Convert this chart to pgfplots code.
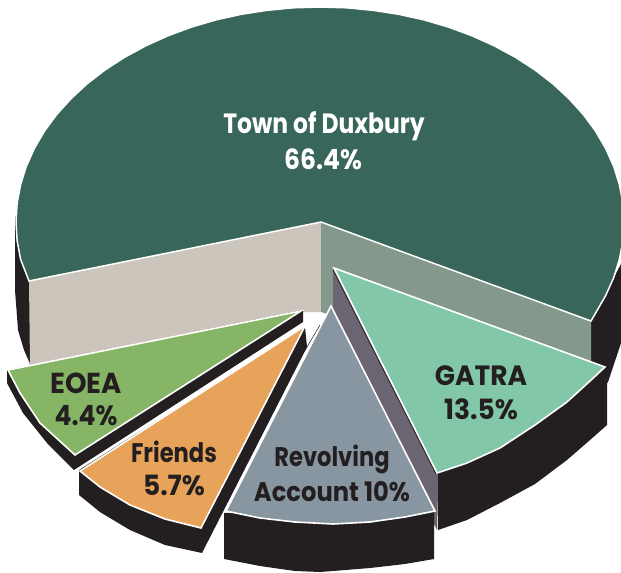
\documentclass[border=0pt]{standalone}
\usepackage{pgfplots}
\pgfplotsset{compat=1.18}
\usepackage{fontspec}
\setmainfont{Poppins}
\newfontfamily\lab[FakeStretch=0.84]{Poppins}
\newfontfamily\labb[FakeStretch=0.95]{Poppins}
\newfontfamily\labc[FakeStretch=0.90]{Poppins}
\definecolor{dk}{HTML}{231F20}
\definecolor{gtop}{HTML}{38665A}
\definecolor{beige}{HTML}{CCC5BB}
\definecolor{sage}{HTML}{84998B}
\definecolor{gatra}{HTML}{82C8A8}
\definecolor{rev}{HTML}{8896A2}
\definecolor{side}{HTML}{6A6570}
\definecolor{fri}{HTML}{E8A35B}
\definecolor{eoea}{HTML}{85B565}
\begin{document}
\begin{tikzpicture}
\useasboundingbox (0,0) rectangle (621bp,573bp);
\begin{axis}[hide axis,scale only axis,width=621bp,height=573bp,xmin=0,xmax=621,ymin=0,ymax=573,y dir=reverse,clip=true,anchor=south west,at={(0,0)}]
% body left and right
\addplot[fill=dk,draw=none] coordinates {(29,281)(15,215)(15,290)(18,330)(24,350)(31,366)(40,366)(40,281)} --cycle;
\addplot[fill=dk,draw=none] coordinates {(591,321)(622,262)(622,340)(608,382)(591,400)} --cycle;
% walls
\addplot[fill=beige,draw=none] coordinates {(29,281)(321,222)(321,312)(302,312)(30,365)} --cycle;
\addplot[fill=sage,draw=none] coordinates {(321,222)(591,321)(591,380)(400,380)(334,316)(321,312)} --cycle;
% Town of Duxbury top
\addplot[fill=gtop,draw=white,line width=1.5pt,line join=miter] coordinates {(29,281)(20.6,259.3)(17.1,240.7)(16,222)(17.1,203.3)(20.6,184.7)(26.3,166.4)(34.3,148.5)(44.5,131.1)(56.7,114.5)(71,98.7)(87.1,83.8)(105,70)(124.6,57.3)(145.6,45.9)(168,35.8)(191.5,27.1)(216,19.9)(241.3,14.3)(267.2,10.3)(293.5,7.8)(320,7)(346.5,7.8)(372.8,10.3)(398.7,14.3)(424,19.9)(448.5,27.1)(472,35.8)(494.4,45.9)(515.4,57.3)(535,70)(552.9,83.8)(569,98.7)(583.3,114.5)(595.5,131.1)(605.7,148.5)(613.7,166.4)(619.4,184.7)(622.9,203.3)(624,222)(622.9,240.7)(619.4,259.3)(613.7,277.6)(605.7,295.5)(591,321)(321,222)(29,281)} --cycle;
% GATRA
\addplot[fill=dk,draw=none] coordinates {(437,473)(438,530)(467,520)(500,503)(535,484)(567,460)(590,440)(607,425)(607,368)} --cycle;
\addplot[fill=side,draw=none] coordinates {(333,268)(333,310)(420,495)(437,530)(438,473)} --cycle;
\addplot[fill=gatra,draw=white,line width=1.6pt] coordinates {(334,268)(605,367)(590,381)(567,402)(535,425)(500,448)(467,463)(437,473)(334,268)} --cycle;
\addplot[draw=dk,line width=0.7pt] coordinates {(333,270)(436,474)};
% Revolving
\addplot[fill=dk,draw=none] coordinates {(224,513)(224,559)(260,566)(295,571)(320,572)(333,571)(370,568)(405,564)(434,559)(434,511)} --cycle;
\addplot[fill=rev,draw=white,line width=1.6pt] coordinates {(331,306)(435,511)(405,517)(370,522)(333,524)(295,522)(260,518)(226,511)(331,306)} --cycle;
\addplot[draw=dk,line width=0.5pt] coordinates {(320,325)(304,352)};
% Friends
\addplot[fill=dk,draw=none] coordinates {(305,327)(307,347)(202,553)(165,545)(130,530)(100,512)(79,495)(79,470)} --cycle;
\addplot[fill=fri,draw=white,line width=1.6pt] coordinates {(305,326)(201,528)(165,519)(130,505)(100,487)(80,471)(305,326)} --cycle;
% EOEA
\addplot[fill=dk,draw=none] coordinates {(303,310)(303,322)(74,470)(47,443)(23,413)(7,383)(7,370)} --cycle;
\addplot[fill=eoea,draw=white,line width=1.6pt] coordinates {(301,311)(75,455)(40,423)(20,393)(8,370)(301,311)} --cycle;
% labels
\node[text=white,font=\lab\bfseries\fontsize{28}{28}\selectfont] at (axis cs:324,126) {Town of Duxbury};
\node[text=white,font=\labc\bfseries\fontsize{28}{28}\selectfont] at (axis cs:323,159) {66.4\%};
\node[text=dk,font=\labb\bfseries\fontsize{28}{28}\selectfont] at (axis cs:481,376) {GATRA};
\node[text=dk,font=\labb\bfseries\fontsize{28}{28}\selectfont] at (axis cs:481,409) {13.5\%};
\node[text=dk,font=\lab\bfseries\fontsize{27}{27}\selectfont] at (axis cs:332,459) {Revolving};
\node[text=dk,font=\labc\bfseries\fontsize{27}{27}\selectfont] at (axis cs:332,492) {Account 10\%};
\node[text=dk,font=\lab\bfseries\fontsize{27}{27}\selectfont] at (axis cs:174,452) {Friends};
\node[text=dk,font=\labb\bfseries\fontsize{28}{28}\selectfont] at (axis cs:174,485) {5.7\%};
\node[text=dk,font=\labb\bfseries\fontsize{29}{29}\selectfont] at (axis cs:86,383) {EOEA};
\node[text=dk,font=\labc\bfseries\fontsize{28}{28}\selectfont] at (axis cs:86,416) {4.4\%};
\end{axis}
\end{tikzpicture}
\end{document}
